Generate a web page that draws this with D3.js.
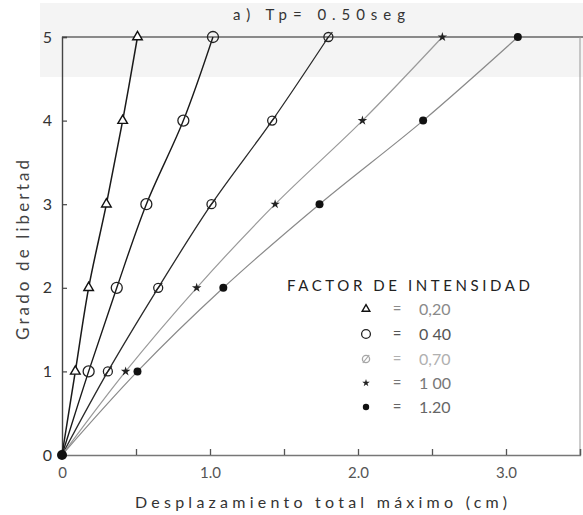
<!DOCTYPE html>
<html>
<head>
<meta charset="utf-8">
<script src="https://cdn.jsdelivr.net/npm/d3@7"></script>
<style>
  html, body { margin: 0; padding: 0; background: #fff; }
  svg { display: block; font-family: Lato, "Open Sans", sans-serif; }
</style>
</head>
<body>
<div id="chart"></div>
<script>
// Degrees of freedom (story level) on the vertical axis
const levels = [0, 1, 2, 3, 4, 5];

// Intensity factors and their total maximum displacement (cm) at each level
const factorLabels = ["0,20", "0 40", "0,70", "1 00", "1.20"];
const disp020 = [0, 0.09, 0.18, 0.30, 0.41, 0.51];
const disp040 = [0, 0.18, 0.37, 0.57, 0.82, 1.02];
const disp070 = [0, 0.31, 0.65, 1.01, 1.42, 1.80];
const disp100 = [0, 0.43, 0.91, 1.44, 2.03, 2.57];
const disp120 = [0, 0.51, 1.09, 1.74, 2.44, 3.08];

const xTickValues = [0, 0.5, 1, 1.5, 2, 2.5, 3, 3.5];
const xTickLabels = ["0", "", "1.0", "", "2.0", "", "3.0", ""];
const yTickLabels = ["0", "1", "2", "3", "4", "5"];

const W = 583, H = 515;
const svg = d3.select("#chart").append("svg").attr("width", W).attr("height", H);

const x = d3.scaleLinear().domain([0, 3.5]).range([62, 580]);
const y = d3.scaleLinear().domain([0, 5]).range([455, 37]);

// faint tone of the paper near the top
svg.append("rect").attr("x", 40).attr("y", 3).attr("width", W - 40).attr("height", 74)
  .attr("fill", "#f4f4f4");

// frame: top and right rules
svg.append("line").attr("x1", x(0)).attr("x2", W).attr("y1", y(5)).attr("y2", y(5))
  .attr("stroke", "#666").attr("stroke-width", 1.3);
svg.append("line").attr("x1", x(3.5)).attr("x2", x(3.5)).attr("y1", y(5)).attr("y2", y(0))
  .attr("stroke", "#999").attr("stroke-width", 1);

// x axis with inward ticks
const xAxis = d3.axisBottom(x).tickValues(xTickValues).tickSize(-6)
  .tickFormat((d, i) => xTickLabels[i]).tickPadding(12);
const gx = svg.append("g").attr("transform", `translate(0,${y(0)})`).call(xAxis);
gx.select(".domain").attr("stroke", "#777").attr("stroke-width", 1.3);
gx.selectAll(".tick line").attr("stroke", "#555").attr("stroke-width", 1.3);
gx.selectAll(".tick text").attr("font-size", 15).attr("fill", "#555")
  .attr("font-family", "Lato, sans-serif");

// y axis with inward ticks
const yAxis = d3.axisLeft(y).tickValues(levels).tickSize(-5)
  .tickFormat((d, i) => yTickLabels[i]).tickPadding(10);
const gy = svg.append("g").attr("transform", `translate(${x(0)},0)`).call(yAxis);
gy.select(".domain").attr("stroke", "#444").attr("stroke-width", 1.4);
gy.selectAll(".tick line").attr("stroke", "#444").attr("stroke-width", 1.2);
gy.selectAll(".tick text").attr("font-size", 16).attr("fill", "#333")
  .attr("font-family", "Lato, sans-serif");

// titles
svg.append("text").attr("x", 233).attr("y", 20).attr("font-size", 15).attr("fill", "#333")
  .attr("textLength", 172).attr("lengthAdjust", "spacing")
  .text("a) Tp= 0.50seg");
svg.append("text").attr("x", 135).attr("y", 508).attr("font-size", 16).attr("fill", "#333")
  .attr("textLength", 372).attr("lengthAdjust", "spacing")
  .text("Desplazamiento total máximo (cm)");
svg.append("text").attr("transform", "translate(29,340) rotate(-90)")
  .attr("font-size", 17).attr("fill", "#444")
  .attr("textLength", 180).attr("lengthAdjust", "spacing")
  .text("Grado de libertad");

// series definitions
const series = [
  { vals: disp020, stroke: "#1a1a1a", width: 1.5, marker: "triangle" },
  { vals: disp040, stroke: "#1a1a1a", width: 1.4, marker: "circle" },
  { vals: disp070, stroke: "#2a2a2a", width: 1.3, marker: "slashed" },
  { vals: disp100, stroke: "#9a9a9a", width: 1.2, marker: "star" },
  { vals: disp120, stroke: "#8a8a8a", width: 1.2, marker: "dot" }
];

const line = d3.line()
  .x(d => x(d[0])).y(d => y(d[1]))
  .curve(d3.curveCatmullRom.alpha(0.5));

function drawMarker(g, type, cx, cy, scale) {
  const s = scale || 1;
  if (type === "triangle") {
    g.append("path").attr("d", d3.symbol(d3.symbolTriangle, 40 * s * s)())
      .attr("transform", `translate(${cx},${cy})`)
      .attr("fill", "#fff").attr("stroke", "#111").attr("stroke-width", 1.4);
  } else if (type === "circle") {
    g.append("circle").attr("cx", cx).attr("cy", cy).attr("r", 5.5 * s)
      .attr("fill", "none").attr("stroke", "#222").attr("stroke-width", 1.3);
  } else if (type === "slashed") {
    g.append("circle").attr("cx", cx).attr("cy", cy).attr("r", 4.5 * s)
      .attr("fill", "none").attr("stroke", "#222").attr("stroke-width", 1.3);
    g.append("line").attr("x1", cx - 4 * s).attr("y1", cy + 5 * s)
      .attr("x2", cx + 4 * s).attr("y2", cy - 5 * s)
      .attr("stroke", "#222").attr("stroke-width", 1.2);
  } else if (type === "star") {
    g.append("path").attr("d", d3.symbol(d3.symbolStar, 28 * s * s)())
      .attr("transform", `translate(${cx},${cy})`)
      .attr("fill", "#222");
  } else if (type === "dot") {
    g.append("circle").attr("cx", cx).attr("cy", cy).attr("r", 4 * s).attr("fill", "#111");
  }
}

const plot = svg.append("g");
series.forEach(s => {
  const pts = levels.map((lv, i) => [s.vals[i], lv]);
  plot.append("path").attr("d", line(pts)).attr("fill", "none")
    .attr("stroke", s.stroke).attr("stroke-width", s.width);
});
series.forEach(s => {
  levels.forEach((lv, i) => {
    if (lv === 0) return;
    drawMarker(plot, s.marker, x(s.vals[i]), y(lv));
  });
});

// shared origin
plot.append("circle").attr("cx", x(0)).attr("cy", y(0)).attr("r", 5).attr("fill", "#111");

// legend
const legend = svg.append("g");
legend.append("text").attr("x", 287).attr("y", 291).attr("font-size", 15).attr("fill", "#222")
  .attr("textLength", 243).attr("lengthAdjust", "spacing")
  .text("FACTOR DE INTENSIDAD");
const legendRows = [309, 334, 359, 383, 407];
const valueColors = ["#8a8a8a", "#555", "#b0b0b0", "#777", "#666"];
const markerColors = ["#555", "#777", "#bbb", "#555", "#222"];
series.forEach((s, i) => {
  const ry = legendRows[i];
  const g = legend.append("g").attr("opacity", i === 2 ? 0.4 : 1);
  drawMarker(g, s.marker, 366, ry, 0.8);
  legend.append("text").attr("x", 397).attr("y", ry + 5).attr("font-size", 15)
    .attr("text-anchor", "middle").attr("fill", valueColors[i]).text("=");
  legend.append("text").attr("x", 419).attr("y", ry + 6).attr("font-size", 16)
    .attr("fill", valueColors[i]).text(factorLabels[i]);
});
</script>
</body>
</html>
